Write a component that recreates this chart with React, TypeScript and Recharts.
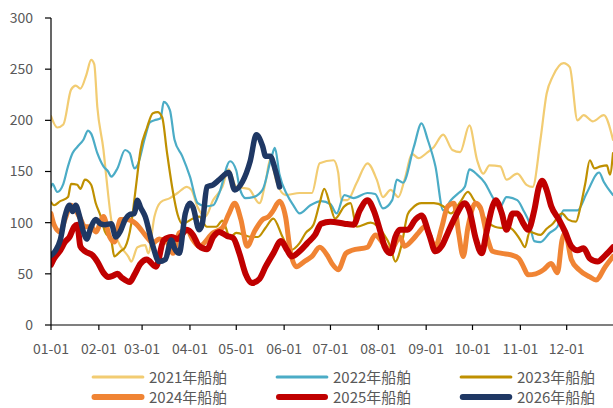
import React from 'react';
import { LineChart, Line, XAxis, YAxis } from 'recharts';

const monthTicks = [0, 31, 59, 90, 120, 151, 181, 212, 243, 273, 304, 334];
const monthLabels = ['01-01', '02-01', '03-01', '04-01', '05-01', '06-01', '07-01', '08-01', '09-01', '10-01', '11-01', '12-01'];
const yTicks = [0, 50, 100, 150, 200, 250, 300];

const names = ['2021年船舶', '2022年船舶', '2023年船舶', '2024年船舶', '2025年船舶', '2026年船舶'];
const colors = ['#F2CC72', '#4BACC6', '#BF9000', '#F08434', '#C00000', '#1F3864'];
const widths = [2.2, 2.2, 2.2, 5, 6, 5.5];

const days2021 = [0,4,8,13,16,19,23,26,28,30,34,36,39,43,50,52,56,61,63,67,71,77,82,88,91,95,100,105,111,115,120,128,135,139,142,146,152,161,169,174,183,186,188,192,198,205,211,215,220,225,229,234,238,244,248,254,260,265,271,276,280,284,291,295,302,308,312,317,321,325,332,336,341,345,351,358,364];
const vals2021 = [204,193,196,230,234,231,245,259,255,213,171,142,103,83,67,62,76,78,70,106,120,124,129,135,132,115,106,122,135,152,135,133,119,140,162,140,127,129,129,158,161,149,122,122,139,158,142,125,132,125,142,167,163,169,174,186,171,169,195,161,148,156,155,142,148,137,135,181,226,243,256,252,200,205,199,205,181];

const days2022 = [0,1,4,8,11,14,17,21,24,26,30,34,37,39,43,48,51,54,56,61,64,67,71,73,77,80,85,90,95,100,105,109,116,120,122,126,131,137,143,145,148,153,157,161,168,175,181,185,190,196,205,210,215,221,224,228,235,240,244,249,254,259,264,268,271,276,281,286,291,295,302,306,310,313,317,323,328,332,341,347,355,358,364];
const vals2022 = [135,138,130,138,155,168,174,181,190,187,168,155,150,145,153,171,168,153,156,184,198,200,202,218,210,181,165,145,119,116,117,129,160,151,135,124,125,132,165,173,147,127,117,109,117,121,118,109,127,124,129,128,114,122,142,139,174,197,181,155,112,122,129,135,152,147,139,125,116,125,122,112,99,82,81,90,96,112,112,129,149,140,127];

const days2023 = [0,2,6,11,13,17,19,22,26,29,32,35,39,41,45,48,52,55,58,62,66,69,72,75,79,82,85,92,96,101,107,111,116,120,130,134,139,144,150,155,161,165,170,174,177,181,184,190,194,198,207,215,220,223,227,231,234,240,248,254,259,265,270,274,278,284,291,297,304,307,310,317,321,325,331,335,340,343,346,349,352,356,360,362,364];
const vals2023 = [120,117,121,125,138,137,133,142,137,119,107,91,83,67,72,76,99,135,171,192,207,208,203,170,130,108,99,104,106,96,96,102,86,90,86,86,95,104,86,73,80,90,98,119,133,116,104,116,119,96,100,90,76,62,78,108,114,119,119,116,109,120,130,122,112,99,95,95,83,76,91,88,94,99,109,103,101,116,138,161,153,155,156,147,168];

const days2024 = [0,2,6,9,13,16,19,22,26,29,34,38,41,45,49,55,62,66,70,75,79,83,88,92,96,105,111,115,119,123,127,132,137,141,144,148,152,155,159,164,169,174,179,182,186,191,195,205,210,215,220,226,229,234,238,242,249,253,257,261,264,267,270,275,278,283,286,292,299,303,306,309,314,319,324,328,331,333,337,342,349,353,359,364];
const vals2024 = [109,98,91,103,117,112,104,96,96,91,106,86,81,103,103,99,86,80,84,81,70,90,93,83,77,90,95,108,119,103,77,92,103,106,112,121,105,72,57,62,67,76,68,60,54,70,73,76,88,80,73,86,77,83,90,96,77,95,116,119,90,67,95,119,115,83,72,70,68,65,57,49,50,54,60,51,83,90,64,54,47,44,57,67];

const days2025 = [0,2,6,9,12,15,17,19,22,27,30,34,37,40,43,46,51,54,58,62,68,73,78,82,88,92,96,101,105,109,114,118,122,126,130,135,139,144,149,153,156,161,166,171,175,181,190,196,200,205,209,213,216,220,223,226,231,236,240,245,249,253,257,262,268,271,275,279,282,286,288,292,295,299,302,306,309,313,316,318,321,324,329,333,337,341,345,349,354,359,364];
const vals2025 = [59,65,73,81,86,96,98,77,72,68,62,51,47,48,50,46,42,49,60,64,57,83,86,84,93,88,77,74,86,91,87,85,70,50,41,45,57,70,82,73,67,72,80,88,99,101,99,98,112,122,112,93,77,70,86,93,93,103,107,88,72,77,90,106,119,112,85,70,90,116,122,109,93,109,109,99,93,112,135,141,132,116,103,91,77,73,75,65,62,68,76];

const days2026 = [0,3,6,9,12,14,16,18,21,23,26,29,32,35,39,42,45,48,51,54,56,58,61,66,70,74,78,80,83,87,90,92,96,98,101,105,109,115,119,124,129,133,137,139,142,145,148];
const vals2026 = [68,73,83,106,117,111,117,109,91,84,96,103,99,98,99,86,92,103,108,109,122,115,106,77,62,64,83,75,70,109,119,115,93,99,135,137,142,149,132,140,160,186,175,165,165,153,135];

const allDays = [days2021, days2022, days2023, days2024, days2025, days2026];
const allVals = [vals2021, vals2022, vals2023, vals2024, vals2025, vals2026];

const seriesData = allDays.map((ds, s) => ds.map((d, i) => ({ day: d, v: allVals[s][i] })));

const FONT = "'Noto Sans CJK SC', 'Noto Sans', sans-serif";

const legendCols = [91, 275, 459];
const legendRows = [377, 397];

export default function App() {
  return (
    <div style={{ position: 'relative', width: 613, height: 408, background: '#fff', fontFamily: FONT }}>
      <style>{'body{margin:0;background:#fff}'}</style>
      <LineChart width={613} height={408} margin={{ top: 18, right: 0, bottom: 53, left: 0 }}>
        <XAxis
          type="number"
          dataKey="day"
          domain={[0, 364]}
          ticks={monthTicks}
          interval={0}
          allowDataOverflow
          tickFormatter={(d: number) => monthLabels[monthTicks.indexOf(d)] ?? ''}
          axisLine={{ stroke: '#000', strokeWidth: 1.2 }}
          tickLine={{ stroke: '#000', strokeWidth: 1.2 }}
          tickSize={5}
          tickMargin={14}
          height={30}
          tick={{ fill: '#595959', fontSize: 14, fontFamily: FONT }}
        />
        <YAxis
          type="number"
          domain={[0, 300]}
          ticks={yTicks}
          interval={0}
          width={51}
          axisLine={{ stroke: '#000', strokeWidth: 1.2 }}
          tickLine={{ stroke: '#000', strokeWidth: 1.2 }}
          tickSize={6}
          tickMargin={12}
          tick={{ fill: '#595959', fontSize: 14, fontFamily: FONT }}
        />
        {seriesData.map((data, s) => (
          <Line
            key={names[s]}
            data={data}
            dataKey="v"
            name={names[s]}
            type="monotone"
            stroke={colors[s]}
            strokeWidth={widths[s]}
            strokeLinecap="round"
            strokeLinejoin="round"
            dot={false}
            activeDot={false}
            isAnimationActive={false}
          />
        ))}
      </LineChart>
      {names.map((n, s) => {
        const col = s % 3;
        const row = Math.floor(s / 3);
        const left = legendCols[col];
        const cy = legendRows[row];
        return (
          <div key={n} style={{ position: 'absolute', left, top: cy - 11, height: 22, display: 'flex', alignItems: 'center' }}>
            <svg width={54} height={10} style={{ display: 'block' }}>
              <line x1={widths[s] / 2 + 1} y1={5} x2={53 - widths[s] / 2} y2={5} stroke={colors[s]} strokeWidth={s < 3 ? 3 : 6} strokeLinecap="round" />
            </svg>
            <span style={{ marginLeft: 4, fontSize: 15, color: '#595959', lineHeight: '22px', whiteSpace: 'nowrap' }}>{n}</span>
          </div>
        );
      })}
    </div>
  );
}
